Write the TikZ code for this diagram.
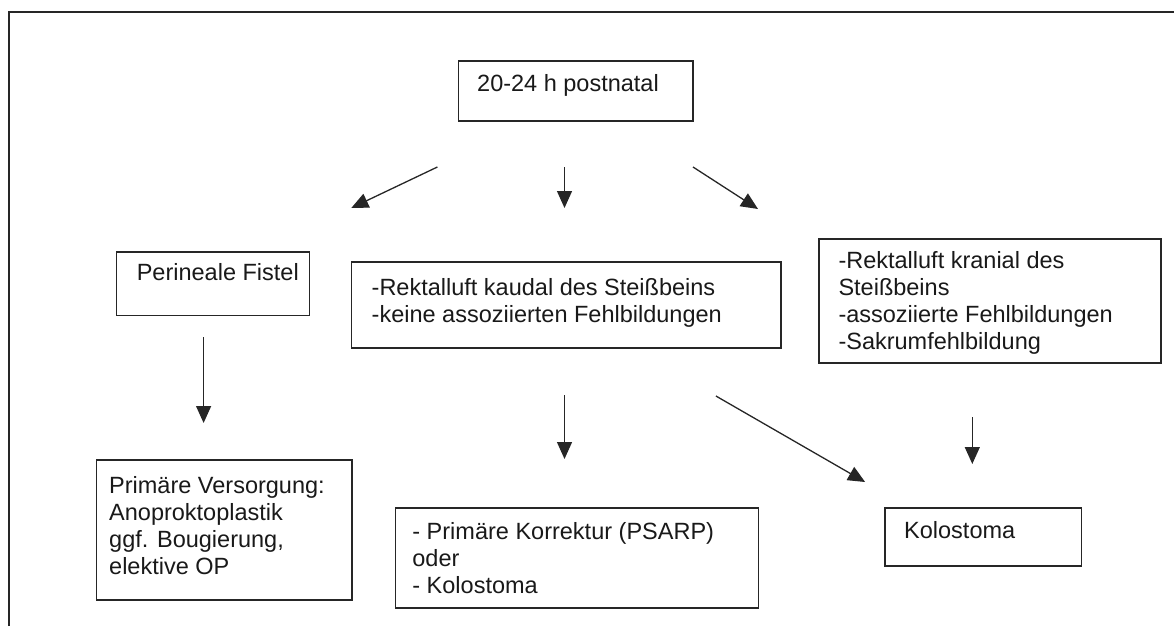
\documentclass[tikz,border=0pt]{standalone}
\usepackage{fontspec}
\setmainfont{Liberation Sans}
\usetikzlibrary{arrows.meta}
\begin{document}
\begin{tikzpicture}[x=1pt,y=-1pt,
  box/.style={draw=black!85, line width=1.3pt, inner sep=0pt},
  txt/.style={anchor=base west, inner sep=0pt, font=\fontsize{23.5pt}{27pt}\selectfont, text=black!90},
  arr/.style={draw=black!85, line width=1.3pt, -{Triangle[length=17pt,width=15pt]}},
  frameline/.style={draw=black!85, line width=1.3pt}]
\useasboundingbox (0,0) rectangle (1174,626);
% frame
\coordinate (f1) at (9,626);
\coordinate (f2) at (9,12);
\coordinate (f3) at (1174,12);
\draw[frameline] (f1) -- (f2) -- (f3);
% boxes
\node[box, minimum width=234.4pt, minimum height=60pt] (top) at (575.7,91) {};
\node[box, minimum width=192.5pt, minimum height=63.7pt] (peri) at (213,283.9) {};
\node[box, minimum width=429.6pt, minimum height=86pt] (mid) at (566.1,305) {};
\node[box, minimum width=342pt, minimum height=124pt] (right) at (990,301) {};
\node[box, minimum width=255.7pt, minimum height=140pt] (prim) at (224.25,530) {};
\node[box, minimum width=363.4pt, minimum height=100pt] (korr) at (577,558) {};
\node[box, minimum width=196.3pt, minimum height=58pt] (kolo) at (983.15,537) {};
% texts
\node[txt] (ttop) at (477,91) {20-24 h postnatal};
\node[txt] (tperi) at (136.6,280) {Perineale Fistel};
\node[txt] (tmid) at (371.5,295.5) {\parbox[t]{420pt}{\raggedright -Rektalluft kaudal des Steißbeins\\-keine assoziierten Fehlbildungen}};
\node[txt] (tright) at (838.3,268.3) {\parbox[t]{320pt}{\raggedright -Rektalluft kranial des\\Steißbeins\\-assoziierte Fehlbildungen\\-Sakrumfehlbildung}};
\node[txt] (tprim) at (109,493) {\parbox[t]{235pt}{\raggedright Primäre Versorgung:\\Anoproktoplastik\\ggf. Bougierung,\\elektive OP}};
\node[txt] (tkorr) at (412.2,539) {\parbox[t]{340pt}{\raggedright - Primäre Korrektur (PSARP)\\oder\\- Kolostoma}};
\node[txt] (tkolo) at (904,538) {Kolostoma};
% arrow end points
\coordinate (a1s) at (437.4,167); \coordinate (a1e) at (351.3,208);
\coordinate (a2s) at (564.5,167); \coordinate (a2e) at (564.5,208);
\coordinate (a3s) at (693,167); \coordinate (a3e) at (758,209);
\coordinate (a4s) at (203.6,337); \coordinate (a4e) at (203.6,423);
\coordinate (a5s) at (564.5,395); \coordinate (a5e) at (564.5,459);
\coordinate (a6s) at (715.9,396); \coordinate (a6e) at (865.1,482);
\coordinate (a7s) at (972.3,417); \coordinate (a7e) at (972.3,464);
\draw[arr] (a1s) -- (a1e);
\draw[arr] (a2s) -- (a2e);
\draw[arr] (a3s) -- (a3e);
\draw[arr] (a4s) -- (a4e);
\draw[arr] (a5s) -- (a5e);
\draw[arr] (a6s) -- (a6e);
\draw[arr] (a7s) -- (a7e);
\end{tikzpicture}
\end{document}
